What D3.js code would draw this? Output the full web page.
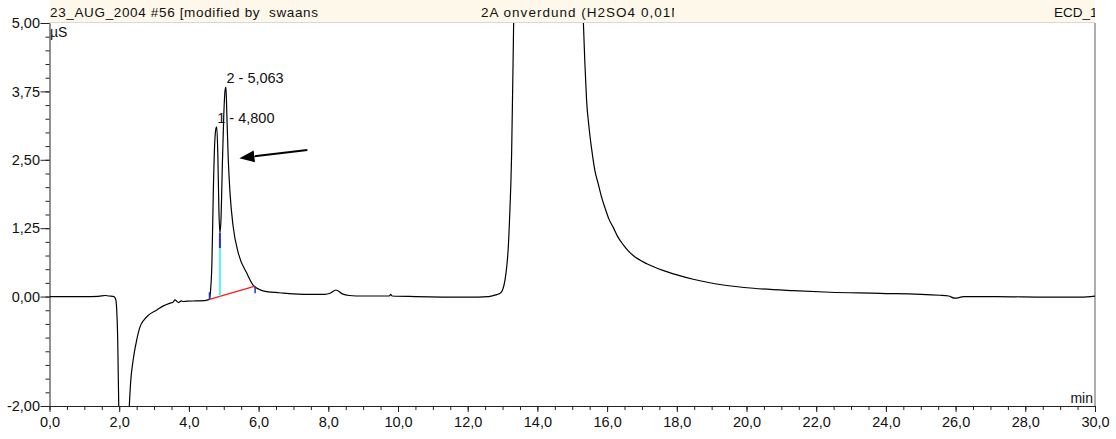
<!DOCTYPE html>
<html>
<head>
<meta charset="utf-8">
<script src="https://cdn.jsdelivr.net/npm/d3@7"></script>
<style>
  html, body { margin: 0; padding: 0; background: #fff; }
  svg { display: block; font-family: "Liberation Sans", Arial, sans-serif; }
</style>
</head>
<body>
<svg id="chart" width="1116" height="439"></svg>
<script>
// Chromatogram trace: retention time (min) and conductivity (µS)
const times = [
  0.0, 0.5, 1.0, 1.4, 1.6, 1.7, 1.85, 1.9, 1.95, 2.0, 2.05, 2.25, 2.29, 2.33,
  2.40, 2.50, 2.60, 2.72, 2.84, 3.08, 3.27, 3.46, 3.55, 3.60, 3.66, 3.70, 3.78,
  3.84, 3.95, 4.20, 4.45, 4.55, 4.59, 4.62, 4.66, 4.70, 4.74, 4.78, 4.80, 4.83,
  4.86, 4.89, 4.92, 4.96, 5.00, 5.04, 5.063, 5.09, 5.13, 5.18, 5.27, 5.42, 5.66,
  5.87, 6.23, 6.60, 7.00, 7.60, 7.90, 8.05, 8.22, 8.40, 8.60, 9.00, 9.75, 9.79,
  9.83, 10.5, 12.0, 12.6, 12.8, 12.93, 13.00, 13.07, 13.12, 13.16, 13.20, 13.26,
  13.30, 13.33, 13.40, 15.20, 15.28, 15.32, 15.36, 15.41, 15.48, 15.56, 15.65,
  15.75, 15.85, 15.94, 16.05, 16.18, 16.30, 16.46, 16.60, 16.75, 17.14, 17.71,
  18.47, 19.33, 20.2, 21.34, 22.4, 23.83, 25.55, 25.8, 25.98, 26.1, 26.22,
  27.17, 28.6, 29.6, 30.0
];
const signal = [
  0.0, 0.0, 0.0, 0.005, 0.02, 0.01, 0.0, -0.05, -0.6, -2.3, -2.6, -2.6, -2.0, -1.55,
  -1.16, -0.8, -0.55, -0.42, -0.34, -0.245, -0.17, -0.12, -0.10, -0.06, -0.09, -0.11, -0.08,
  -0.09, -0.085, -0.08, -0.075, -0.06, -0.05, 0.1, 0.6, 1.9, 2.8, 3.08, 3.10, 2.6,
  1.6, 1.16, 1.4, 2.4, 3.3, 3.78, 3.83, 3.3, 2.50, 1.89, 1.28, 0.79, 0.43,
  0.19, 0.09, 0.07, 0.05, 0.04, 0.04, 0.06, 0.12, 0.05, 0.02, 0.01, 0.01, 0.04,
  0.01, 0.0, -0.01, 0.0, 0.03, 0.06, 0.12, 0.30, 0.55, 0.85, 1.4, 2.6,
  4.2, 5.5, 8.0, 8.0, 5.8, 5.0, 4.3, 3.6, 3.1, 2.68, 2.3,
  2.05, 1.8, 1.62, 1.42, 1.26, 1.10, 0.95, 0.84, 0.75, 0.60, 0.455,
  0.316, 0.212, 0.152, 0.108, 0.079, 0.06, 0.024, 0.01, -0.03, -0.02, 0.0,
  0.0, -0.01, -0.01, 0.01
];

// Integrated peaks
const peakNumbers = ["1", "2"];
const peakTimes = [4.800, 5.063];
const peakHeights = [3.10, 3.83];
// Integration delimiters: start, valley drop, end
const baselineTimes = [4.59, 5.90];
const baselineValues = [-0.05, 0.19];
const valleyTime = 4.89;
const valleyValue = 1.16;

// Axis ticks
const xMajorTicks = [0, 2, 4, 6, 8, 10, 12, 14, 16, 18, 20, 22, 24, 26, 28, 30];
const yMajorTicks = [-2, 0, 1.25, 2.5, 3.75, 5];

// Header texts
const headerLeft = "23_AUG_2004 #56 [modified by  swaans";
const headerMid = "2A onverdund (H2SO4 0,01N";
const headerRight = "ECD_1";

const svg = d3.select("#chart");
const plotLeft = 49.5, plotRight = 1095, plotTop = 23, plotBottom = 406;
const labelFont = 14.5;

const x = d3.scaleLinear().domain([0, 30]).range([plotLeft, plotRight]);
const y = d3.scaleLinear().domain([-2, 5]).range([plotBottom, plotTop]);

const comma = (v, d) => v.toFixed(d).replace(".", ",");

// Header band
svg.append("rect").attr("x", plotLeft).attr("y", 0)
  .attr("width", plotRight - plotLeft).attr("height", 22)
  .attr("fill", "#fdf8ea");
svg.append("line").attr("x1", plotLeft).attr("x2", plotRight)
  .attr("y1", 22.5).attr("y2", 22.5)
  .attr("stroke", "#d8d8d8").attr("stroke-width", 1);

const defs = svg.append("defs");
defs.append("clipPath").attr("id", "midClip")
  .append("rect").attr("x", 470).attr("y", 0).attr("width", 204).attr("height", 22);
defs.append("clipPath").attr("id", "rightClip")
  .append("rect").attr("x", 1000).attr("y", 0).attr("width", plotRight - 1000).attr("height", 22);
defs.append("clipPath").attr("id", "plotClip")
  .append("rect").attr("x", plotLeft).attr("y", plotTop)
  .attr("width", plotRight - plotLeft).attr("height", plotBottom - plotTop);

const headerFont = 13.5;
svg.append("text").attr("x", 50).attr("y", 17)
  .attr("font-size", headerFont).attr("fill", "#111")
  .attr("xml:space", "preserve").style("white-space", "pre")
  .attr("textLength", 268).attr("lengthAdjust", "spacing")
  .text(headerLeft);
svg.append("text").attr("x", 481).attr("y", 17)
  .attr("font-size", headerFont).attr("fill", "#111")
  .attr("clip-path", "url(#midClip)")
  .attr("textLength", 200).attr("lengthAdjust", "spacing")
  .text(headerMid);
svg.append("text").attr("x", 1054).attr("y", 17)
  .attr("font-size", headerFont).attr("fill", "#111")
  .attr("clip-path", "url(#rightClip)")
  .text(headerRight);

// Right frame line
svg.append("line").attr("x1", plotRight).attr("x2", plotRight)
  .attr("y1", plotTop).attr("y2", plotBottom)
  .attr("stroke", "#777").attr("stroke-width", 1.2);

// X axis: minor then major ticks
const xMinor = d3.range(0, 30.001, 0.5);
svg.append("g").attr("transform", `translate(0,${plotBottom})`)
  .call(d3.axisBottom(x).tickValues(xMinor).tickSize(4).tickFormat(""))
  .call(g => g.select(".domain").remove())
  .call(g => g.selectAll("line").attr("stroke", "#222"));
const gx = svg.append("g").attr("transform", `translate(0,${plotBottom})`)
  .call(d3.axisBottom(x).tickValues(xMajorTicks).tickSize(6).tickSizeOuter(0)
    .tickFormat(d => comma(d, 1)));
gx.select(".domain").attr("stroke", "#222");
gx.selectAll("line").attr("stroke", "#222");
gx.selectAll("text").attr("font-size", labelFont).attr("fill", "#111")
  .attr("font-family", "Liberation Sans, Arial, sans-serif")
  .attr("y", 11).attr("dy", "0.71em");

// Y axis
const yMinor = d3.range(-2, 5.001, 0.25);
svg.append("g").attr("transform", `translate(${plotLeft},0)`)
  .call(d3.axisLeft(y).tickValues(yMinor).tickSize(4).tickFormat(""))
  .call(g => g.select(".domain").remove())
  .call(g => g.selectAll("line").attr("stroke", "#222"));
const gy = svg.append("g").attr("transform", `translate(${plotLeft},0)`)
  .call(d3.axisLeft(y).tickValues(yMajorTicks).tickSize(9).tickSizeOuter(0)
    .tickFormat(d => comma(d, 2)));
gy.select(".domain").attr("stroke", "#222");
gy.selectAll("line").attr("stroke", "#222");
gy.selectAll("text").attr("font-size", labelFont).attr("fill", "#111")
  .attr("font-family", "Liberation Sans, Arial, sans-serif").attr("x", -9.5);

// Unit labels
svg.append("text").attr("x", 50).attr("y", 37).attr("font-size", 14).attr("fill", "#111").text("µS");
svg.append("text").attr("x", 1093).attr("y", 403).attr("text-anchor", "end")
  .attr("font-size", 14).attr("fill", "#111").text("min");

// Trace
const plot = svg.append("g").attr("clip-path", "url(#plotClip)");
const pts = times.map((t, i) => [t, signal[i]]);
const line = d3.line().x(d => x(d[0])).y(d => y(d[1])).curve(d3.curveMonotoneX);
plot.append("path").datum(pts).attr("d", line)
  .attr("fill", "none").attr("stroke", "#000").attr("stroke-width", 1.2);

// Integration baseline
const baseAt = t => baselineValues[0] + (baselineValues[1] - baselineValues[0]) *
  (t - baselineTimes[0]) / (baselineTimes[1] - baselineTimes[0]);
plot.append("line")
  .attr("x1", x(baselineTimes[0])).attr("y1", y(baselineValues[0]))
  .attr("x2", x(baselineTimes[1])).attr("y2", y(baselineValues[1]))
  .attr("stroke", "#ff1a1a").attr("stroke-width", 1.2);

// Valley drop line
plot.append("line")
  .attr("x1", x(valleyTime)).attr("x2", x(valleyTime))
  .attr("y1", y(baseAt(valleyTime))).attr("y2", y(valleyValue) + 15)
  .attr("stroke", "#5ff0f0").attr("stroke-width", 2);
plot.append("line")
  .attr("x1", x(valleyTime)).attr("x2", x(valleyTime))
  .attr("y1", y(valleyValue) + 15).attr("y2", y(valleyValue))
  .attr("stroke", "#2233cc").attr("stroke-width", 2);

// Start / end delimiters
plot.append("line")
  .attr("x1", x(baselineTimes[0])).attr("x2", x(baselineTimes[0]))
  .attr("y1", y(baselineValues[0])).attr("y2", y(baselineValues[0]) - 7)
  .attr("stroke", "#2233cc").attr("stroke-width", 1.5);
plot.append("line")
  .attr("x1", x(baselineTimes[1])).attr("x2", x(baselineTimes[1]))
  .attr("y1", y(baselineValues[1])).attr("y2", y(baselineValues[1]) + 7)
  .attr("stroke", "#2233cc").attr("stroke-width", 1.5);

// Peak labels
svg.selectAll(".plabel").data(peakTimes).enter().append("text")
  .attr("class", "plabel")
  .attr("x", d => x(d) + 0.5)
  .attr("y", (d, i) => y(peakHeights[i]) - 4)
  .attr("font-size", labelFont).attr("fill", "#111")
  .text((d, i) => `${peakNumbers[i]} - ${comma(d, 3)}`);

// Arrow pointing at the peak pair
const arrowFrom = [7.4, 2.68];
const arrowTo = [5.45, 2.53];
const ax1 = x(arrowFrom[0]), ay1 = y(arrowFrom[1]);
const ax2 = x(arrowTo[0]), ay2 = y(arrowTo[1]);
const ang = Math.atan2(ay2 - ay1, ax2 - ax1);
const headLen = 15, headW = 6;
const bx = ax2 - headLen * Math.cos(ang), by = ay2 - headLen * Math.sin(ang);
svg.append("line").attr("x1", ax1).attr("y1", ay1).attr("x2", bx).attr("y2", by)
  .attr("stroke", "#000").attr("stroke-width", 2);
svg.append("path")
  .attr("d", `M${ax2},${ay2} L${bx + headW * Math.sin(ang)},${by - headW * Math.cos(ang)} L${bx - headW * Math.sin(ang)},${by + headW * Math.cos(ang)} Z`)
  .attr("fill", "#000");
</script>
</body>
</html>
